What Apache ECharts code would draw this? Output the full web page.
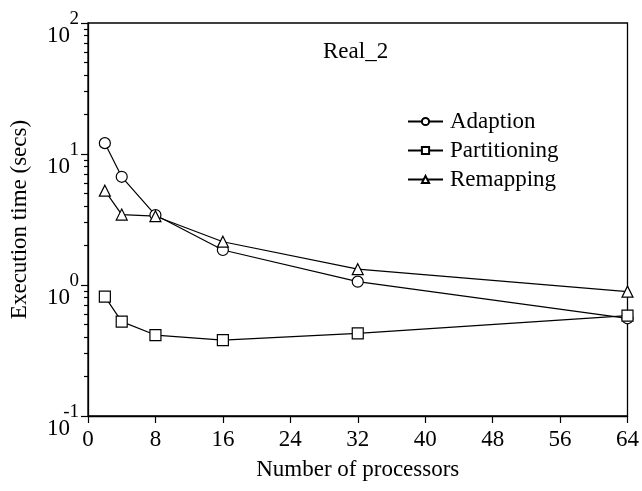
<!DOCTYPE html>
<html><head><meta charset="utf-8">
<script src="https://cdn.jsdelivr.net/npm/echarts@6/dist/echarts.min.js"></script>
<style>html,body{margin:0;padding:0;background:#fff}#c{width:642px;height:491px}</style>
</head><body><div id="c"></div>
<script>
const processors = [2, 4, 8, 16, 32, 64];
const adaption = [12.1, 6.7, 3.42, 1.85, 1.06, 0.557];
const partitioning = [0.815, 0.525, 0.415, 0.38, 0.428, 0.583];
const remapping = [5.25, 3.45, 3.35, 2.14, 1.32, 0.89];
const xTicks = [0, 8, 16, 24, 32, 40, 48, 56, 64];
const yMajorTicks = [0.1, 1, 10, 100];
const yMinorTicks = [0.2,0.3,0.4,0.5,0.6,0.7,0.8,0.9,2,3,4,5,6,7,8,9,20,30,40,50,60,70,80,90];

const FONT = 'Liberation Serif';
const chart = echarts.init(document.getElementById('c'), null, {renderer: 'canvas'});
const pair = ys => processors.map((x, i) => [x, ys[i]]);
const mk = (name, ys, sym, size) => ({
  name, type: 'line', data: pair(ys), symbol: sym, symbolSize: size,
  showAllSymbol: true,
  lineStyle: {color: '#000', width: 1.2},
  itemStyle: {color: '#fff', borderColor: '#000', borderWidth: 1.2},
  emphasis: {disabled: true}, animation: false, z: 3
});
chart.setOption({
  animation: false,
  backgroundColor: '#fff',
  textStyle: {fontFamily: FONT, color: '#000'},
  grid: {left: 86, right: 13, top: 23, bottom: 75, show: true, borderColor: '#000', borderWidth: 1.3, backgroundColor: 'transparent'},
  graphic: [{type: 'text', left: 357 - 34, top: 40, style: {text: 'Real_2', font: '23px "Liberation Serif"', fill: '#000'}}],
  legend: {
    left: 402, top: 105, orient: 'vertical', itemWidth: 35, itemHeight: 9, itemGap: 6,
    textStyle: {fontFamily: FONT, fontSize: 23, color: '#000', padding: [0, 0, 0, 2]},
    data: ['Adaption', 'Partitioning', 'Remapping']
  },
  xAxis: {
    type: 'value', min: xTicks[0], max: xTicks[xTicks.length - 1], interval: 8,
    name: 'Number of processors', nameLocation: 'middle', nameGap: 42,
    nameTextStyle: {fontFamily: FONT, fontSize: 23, color: '#000'},
    axisLine: {lineStyle: {color: '#000', width: 1.3}},
    axisTick: {show: true, length: 7, inside: false, lineStyle: {color: '#000', width: 1.2}},
    axisLabel: {fontFamily: FONT, fontSize: 23, color: '#000', margin: 12},
    splitLine: {show: false}
  },
  yAxis: [{
    type: 'log', logBase: 10, min: yMajorTicks[0], max: yMajorTicks[yMajorTicks.length - 1],
    name: 'Execution time (secs)', nameLocation: 'middle', nameGap: 57,
    nameTextStyle: {fontFamily: FONT, fontSize: 23, color: '#000'},
    axisLine: {show: true, lineStyle: {color: '#000', width: 1.3}},
    axisTick: {show: true, length: 7, lineStyle: {color: '#000', width: 1.2}, customValues: yMajorTicks},
    axisLabel: {
      customValues: yMajorTicks, margin: 9, align: 'right', verticalAlign: 'middle', padding: [9, 0, 0, 0],
      formatter: v => '{e|' + Math.round(Math.log10(v)) + '}\n{b|10}',
      rich: {
        e: {fontFamily: FONT, fontSize: 19, lineHeight: 17, color: '#000', align: 'right'},
        b: {fontFamily: FONT, fontSize: 23, lineHeight: 17, color: '#000', align: 'right', padding: [0, 9, 0, 0]}
      }
    },
    splitLine: {show: false}
  }, {
    type: 'log', logBase: 10, min: yMajorTicks[0], max: yMajorTicks[yMajorTicks.length - 1], position: 'left',
    axisLine: {show: false},
    axisTick: {show: true, length: 4, lineStyle: {color: '#000', width: 1.2}, customValues: yMinorTicks},
    axisLabel: {show: false},
    splitLine: {show: false}
  }],
  series: [
    mk('Adaption', adaption, 'circle', 11),
    mk('Partitioning', partitioning, 'rect', 11),
    mk('Remapping', remapping, 'triangle', 11)
  ]
});
</script></body></html>
